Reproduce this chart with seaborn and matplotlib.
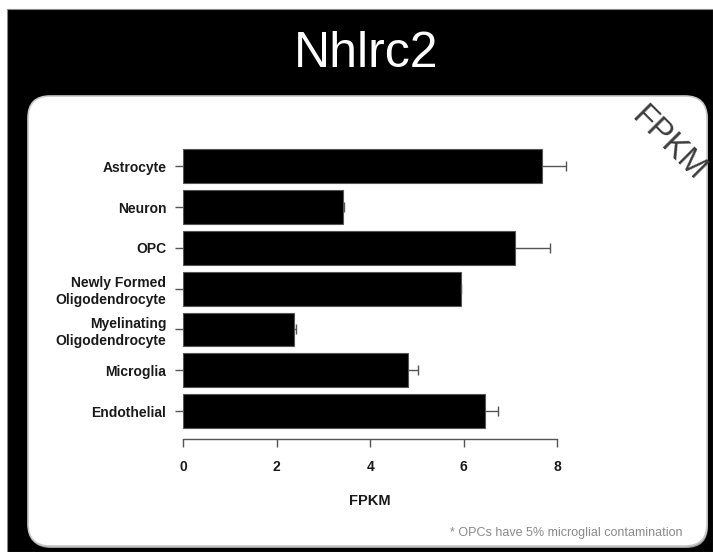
import matplotlib
matplotlib.use("Agg")
import matplotlib.pyplot as plt
from matplotlib.patches import FancyBboxPatch, Rectangle
import numpy as np
import seaborn as sns

# Expression per brain cell type (mean FPKM with standard error)
cell_types = [
    "Astrocyte",
    "Neuron",
    "OPC",
    "Newly Formed\nOligodendrocyte",
    "Myelinating\nOligodendrocyte",
    "Microglia",
    "Endothelial",
]
fpkm = [7.67, 3.41, 7.09, 5.93, 2.37, 4.80, 6.45]
sem = [0.52, 0.02, 0.75, 0.02, 0.05, 0.21, 0.29]
x_ticks = [0, 2, 4, 6, 8]

gene = "Nhlrc2"
footnote = "* OPCs have 5% microglial contamination"

sns.set_style("white")
plt.rcParams["font.family"] = ["Liberation Sans", "DejaVu Sans"]

W, H = 713, 552
fig = plt.figure(figsize=(W / 100, H / 100), dpi=100, facecolor="white")

# Slide backdrop drawn in pixel coordinates
bg = fig.add_axes([0, 0, 1, 1], zorder=0)
bg.set_xlim(0, W)
bg.set_ylim(H, 0)
bg.axis("off")
bg.add_patch(Rectangle((7, 9), W - 7, H - 9, facecolor="black", edgecolor="#888888", lw=0.8))
bg.add_patch(FancyBboxPatch((29, 98), 679, 450,
                            boxstyle="round,pad=0,rounding_size=22",
                            facecolor="#9a9a9a", edgecolor="none"))
bg.add_patch(FancyBboxPatch((28, 96), 679, 450,
                            boxstyle="round,pad=0,rounding_size=22",
                            facecolor="white", edgecolor="#c8c8c8", lw=1.2))
bg.text(366, 67, gene, color="white", fontsize=36, ha="center", va="baseline")
bg.text(668, 144, "FPKM", color="#3c3c3c", fontsize=23.5, rotation=-45,
        ha="center", va="center", rotation_mode="anchor")
bg.text(683, 533, footnote, color="#8a8a8a", fontsize=9.0, ha="right", va="center")

# Bar chart
ax = fig.add_axes([183.3 / W, (H - 439) / H, (557.3 - 183.3) / W, (439 - 145.9) / H], zorder=2)
ax.set_facecolor("none")
sns.barplot(x=fpkm, y=cell_types, orient="h", color="black", width=0.83,
            edgecolor="#555555", linewidth=0.8, ax=ax)

idx = np.arange(len(cell_types))
tips = np.array(fpkm) + np.array(sem)
ax.hlines(idx, fpkm, tips, color="#555555", lw=1.0, zorder=1, clip_on=False)
ax.plot(tips, idx, ls="none", marker="|", ms=7, mew=1.0, color="#555555",
        zorder=1, clip_on=False)

ax.set_xlim(0, 8)
ax.set_ylim(6.686, -0.5)
ax.set_xticks(x_ticks)
ax.set_xticklabels([str(t) for t in x_ticks], fontsize=10, fontweight="bold", color="#1a1a1a")
ax.set_yticks(idx)
ax.set_yticklabels(cell_types, fontsize=10, fontweight="bold", color="#1a1a1a", linespacing=1.25)
ax.set_xlabel("FPKM", fontsize=10.5, fontweight="bold", color="#1a1a1a", labelpad=15)
ax.set_ylabel("")

for side in ("top", "right", "left"):
    ax.spines[side].set_visible(False)
ax.spines["bottom"].set_color("#555555")
ax.spines["bottom"].set_linewidth(1.0)
ax.tick_params(axis="x", direction="out", length=5.8, width=1.0, color="#555555", pad=9, bottom=True)
ax.tick_params(axis="y", direction="out", length=5.8, width=1.0, color="#555555", pad=6.5, left=True)

fig.savefig("out.png", dpi=100, facecolor=fig.get_facecolor())
